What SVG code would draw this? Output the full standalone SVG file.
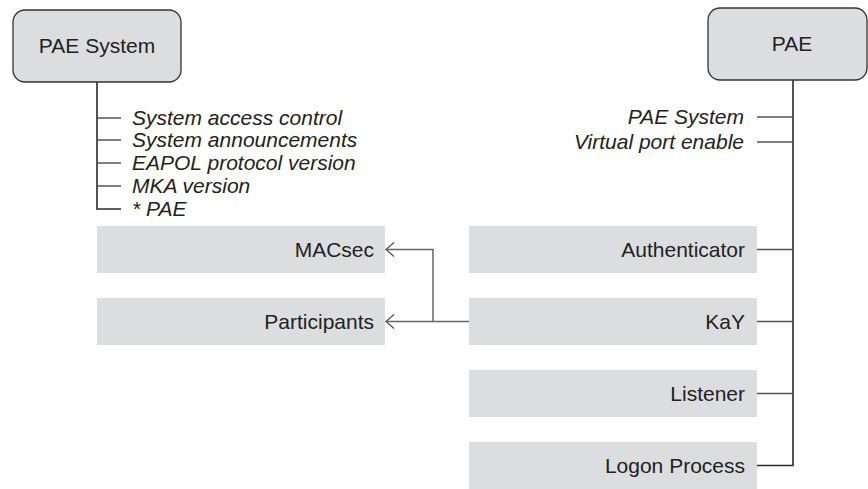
<svg xmlns="http://www.w3.org/2000/svg" width="868" height="489" viewBox="0 0 868 489">
<defs>
<style>
text{font-family:"Liberation Sans",Arial,sans-serif;font-size:21px;fill:#222}
.it{font-style:italic}
.node{fill:#dcdddf;stroke:#333;stroke-width:1.3}
.box{fill:#dcdddf}
.trunk{fill:none;stroke:#2a2a2a;stroke-width:1.6}
.tick{fill:none;stroke:#555;stroke-width:1.3}
.conn{fill:none;stroke:#666;stroke-width:1.5}
</style>
<marker id="arr" viewBox="0 0 10 16" refX="9" refY="8" markerWidth="10" markerHeight="16" markerUnits="userSpaceOnUse" orient="auto">
<path d="M1,1 L9,8 L1,15" fill="none" stroke="#555" stroke-width="1.3"/>
</marker>
</defs>
<rect width="868" height="489" fill="#fff"/>
<g id="connectors">
<path class="trunk" d="M97,82 V209 H121"/>
<path class="tick" d="M97,118 H121 M97,140 H121 M97,163 H121 M97,186 H121"/>
<path class="trunk" d="M793,80 V465.5 H757"/>
<path class="tick" d="M757,117 H793 M757,142 H793 M757,249.5 H793 M757,321.5 H793 M757,393.5 H793"/>
<path class="conn" d="M469,321.5 H433 V249.5 H386" marker-end="url(#arr)"/>
<path class="conn" d="M433,321.5 H386" marker-end="url(#arr)"/>
</g>
<g id="pae-system">
<rect class="node" x="13" y="10" width="168" height="72" rx="12"/>
<text x="97" y="53" text-anchor="middle">PAE System</text>
</g>
<g id="pae-system-attrs">
<text class="it" x="132" y="125">System access control</text>
<text class="it" x="132" y="147">System announcements</text>
<text class="it" x="132" y="170">EAPOL protocol version</text>
<text class="it" x="132" y="193">MKA version</text>
<text class="it" x="132" y="216">* PAE</text>
</g>
<g id="pae">
<rect class="node" x="708" y="8" width="159" height="72" rx="12"/>
<text x="792" y="51" text-anchor="middle">PAE</text>
</g>
<g id="pae-attrs">
<text class="it" x="744" y="124" text-anchor="end">PAE System</text>
<text class="it" x="744" y="149" text-anchor="end">Virtual port enable</text>
</g>
<g id="macsec">
<rect class="box" x="97" y="226" width="288" height="47"/>
<text x="374" y="257" text-anchor="end">MACsec</text>
</g>
<g id="participants">
<rect class="box" x="97" y="298" width="288" height="47"/>
<text x="374" y="329" text-anchor="end">Participants</text>
</g>
<g id="authenticator">
<rect class="box" x="469" y="226" width="288" height="47"/>
<text x="745" y="257" text-anchor="end">Authenticator</text>
</g>
<g id="kay">
<rect class="box" x="469" y="298" width="288" height="47"/>
<text x="745" y="329" text-anchor="end">KaY</text>
</g>
<g id="listener">
<rect class="box" x="469" y="370" width="288" height="47"/>
<text x="745" y="401" text-anchor="end">Listener</text>
</g>
<g id="logon-process">
<rect class="box" x="469" y="442" width="288" height="47"/>
<text x="745" y="473" text-anchor="end">Logon Process</text>
</g>
</svg>
